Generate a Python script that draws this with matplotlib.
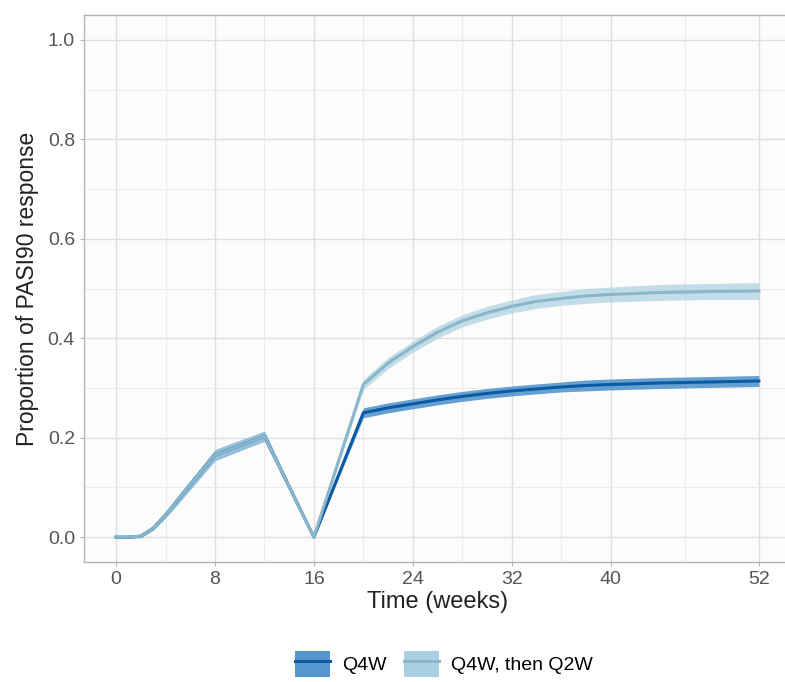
import numpy as np
import matplotlib.pyplot as plt
from matplotlib.patches import Patch
from matplotlib.lines import Line2D

plt.rcParams['font.family'] = ['Liberation Sans', 'DejaVu Sans']

# time grid (weeks)
weeks = [0, 1, 2, 3, 4, 5, 6, 7, 8, 12, 16, 20, 22, 24, 26, 28, 30, 32, 34, 36, 38, 40, 44, 48, 52]

# Q4W
q4w_mid = [0.0, 0.0, 0.002, 0.018, 0.045, 0.075, 0.105, 0.135, 0.165, 0.203, 0.0,
           0.250, 0.260, 0.268, 0.276, 0.283, 0.289, 0.294, 0.298, 0.302, 0.305, 0.307,
           0.310, 0.312, 0.314]
q4w_half = [0.002, 0.002, 0.003, 0.004, 0.006, 0.008, 0.009, 0.010, 0.011, 0.010, 0.002,
            0.010, 0.010, 0.010, 0.010, 0.010, 0.010, 0.010, 0.010, 0.010, 0.011, 0.011,
            0.011, 0.011, 0.011]

# Q4W, then Q2W
q2w_mid = [0.0, 0.0, 0.002, 0.018, 0.045, 0.075, 0.105, 0.135, 0.165, 0.203, 0.0,
           0.307, 0.350, 0.383, 0.412, 0.435, 0.451, 0.464, 0.474, 0.480, 0.485, 0.488,
           0.492, 0.494, 0.495]
q2w_half = [0.002, 0.002, 0.003, 0.004, 0.006, 0.008, 0.009, 0.010, 0.011, 0.010, 0.002,
            0.010, 0.011, 0.011, 0.012, 0.012, 0.013, 0.013, 0.014, 0.014, 0.015, 0.015,
            0.016, 0.016, 0.017]

x_ticks = [0, 8, 16, 24, 32, 40, 52]
x_minor = [4, 12, 20, 28, 36, 46]
y_ticks = [0.0, 0.2, 0.4, 0.6, 0.8, 1.0]
y_minor = [0.1, 0.3, 0.5, 0.7, 0.9]

series = [
    ("Q4W", q4w_mid, q4w_half, "#0b5aa2", "#5596cf", 0.9),
    ("Q4W, then Q2W", q2w_mid, q2w_half, "#8ab6c9", "#aacfe0", 0.7),
]

fig = plt.figure(figsize=(7.85, 6.82), dpi=100)
ax = fig.add_axes([84 / 785, 1 - 562 / 682, (791 - 84) / 785, (562 - 15) / 682])
ax.set_facecolor("#fcfcfc")

w = np.array(weeks)
for label, mid, half, lc, fc, al in series:
    m = np.array(mid)
    h = np.array(half)
    ax.fill_between(w, m - h, m + h, color=fc, alpha=al, lw=0, zorder=2)
    ax.plot(w, m, color=lc, lw=2.2, zorder=3)

ax.set_xlim(-2.6, 54.6)
ax.set_ylim(-0.05, 1.05)
ax.set_xticks(x_ticks)
ax.set_xticks(x_minor, minor=True)
ax.set_yticks(y_ticks)
ax.set_yticks(y_minor, minor=True)
ax.set_yticklabels([f"{v:.1f}" for v in y_ticks])
ax.grid(which="major", color="#dedede", lw=1.0, zorder=0)
ax.grid(which="minor", color="#ebebeb", lw=0.8, zorder=0)
ax.set_axisbelow(True)
ax.tick_params(which="major", length=3, color="#b3b3b3", labelcolor="#555555", labelsize=14)
ax.tick_params(which="minor", length=0)
for s in ax.spines.values():
    s.set_color("#b3b3b3")
    s.set_linewidth(1.0)
ax.spines["right"].set_visible(False)

ax.set_xlabel("Time (weeks)", fontsize=17, color="#222222", labelpad=2)
ax.set_ylabel("Proportion of PASI90 response", fontsize=16.5, color="#222222", labelpad=6)

# legend
leg_handles = [(Patch(facecolor=fc, edgecolor="none"), Line2D([], [], color=lc, lw=2.2))
               for _, _, _, lc, fc, _ in series]
fig.legend(leg_handles, [s[0] for s in series], loc="center", bbox_to_anchor=(444 / 785, 1 - 664 / 682),
           ncol=2, frameon=False, fontsize=14, handlelength=1.8, handleheight=1.7,
           columnspacing=0.9, handletextpad=0.6)

fig.savefig("out.png", dpi=100, facecolor="white")
